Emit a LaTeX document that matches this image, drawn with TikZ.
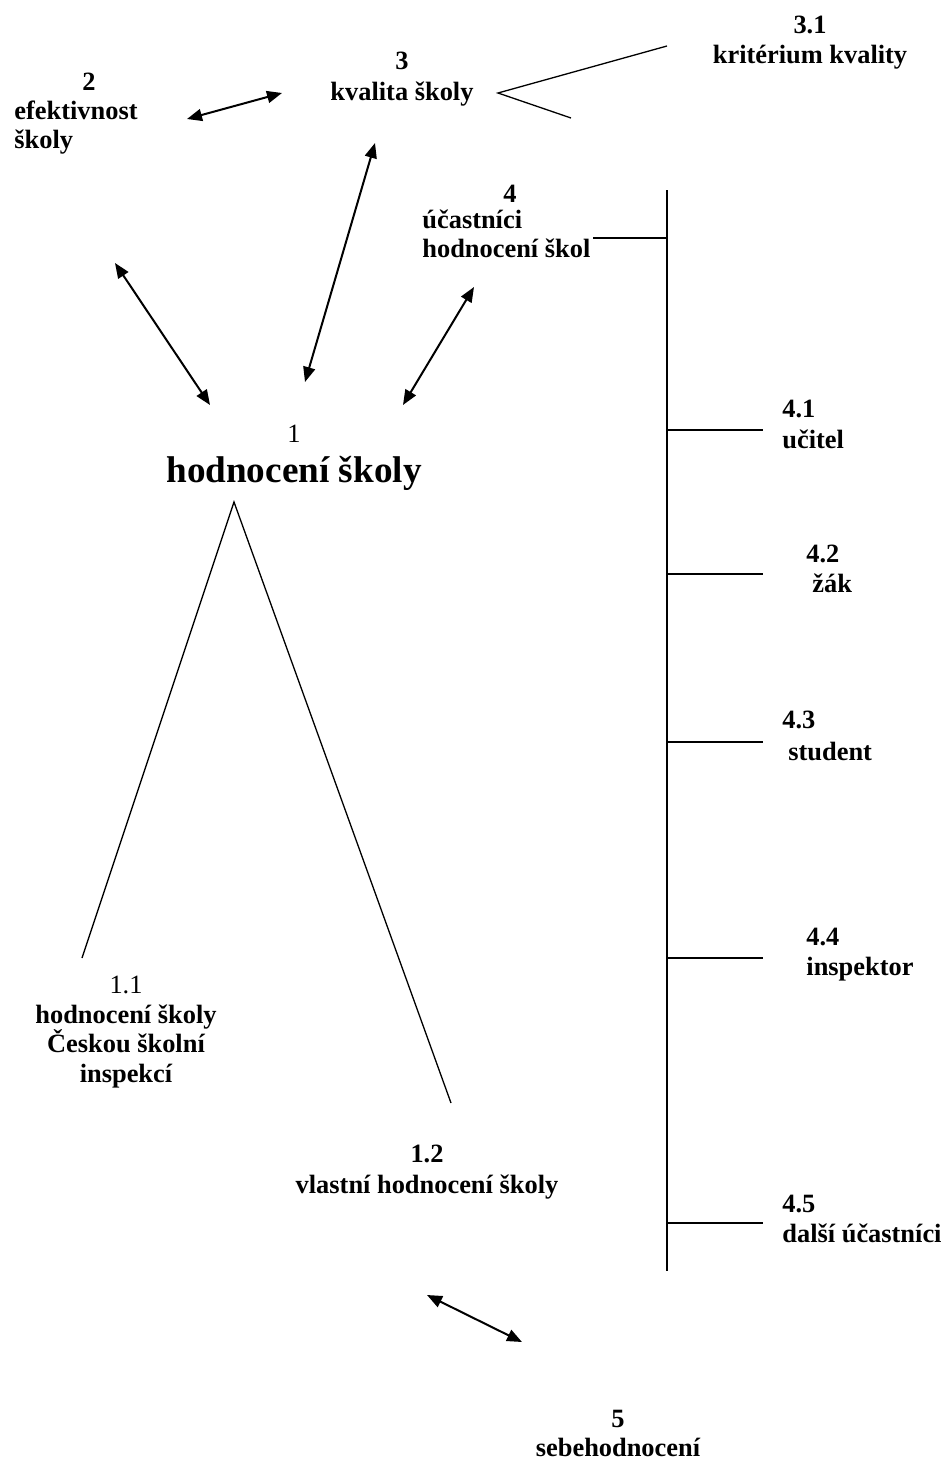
\documentclass[tikz,border=0pt]{standalone}
\usepackage{fontspec}
\setmainfont{Liberation Serif}
\usetikzlibrary{arrows.meta}

\tikzset{
  lab/.style={inner sep=0pt, anchor=north, yshift=10.325pt, align=center,
    font=\bfseries\fontsize{13.2}{14.75}\selectfont, execute at begin node=\strut},
  labl/.style={lab, anchor=north west, align=left},
  plain/.style={lab, font=\fontsize{13.2}{14.75}\selectfont},
  big/.style={lab, yshift=5.075pt, font=\bfseries\fontsize{18.6}{22}\selectfont},
  link/.style={<->, line width=1pt},
  edge/.style={line width=0.65pt},
}

\begin{document}
\begin{tikzpicture}[>={Triangle[length=7.5pt,width=6pt]}, x=0.5pt, y=-0.5pt]
    \useasboundingbox (0, 0) rectangle (949, 1461);

    % efektivnost skoly
    \node[lab] (n2) at (89, 90) {2};
    \node[labl] (t2) at (14, 121) {efektivnost\\školy};
    % kvalita skoly
    \node[lab] (n3) at (402, 69) {3};
    \node[lab] (t3) at (402, 100) {kvalita školy};
    % kriterium kvality
    \node[lab] (n31) at (810, 33) {3.1};
    \node[lab] (t31) at (810, 63) {kritérium kvality};
    % ucastnici hodnoceni skol
    \node[lab] (n4) at (510, 202) {4};
    \node[labl] (t4) at (422, 230) {účastníci\\hodnocení škol};
    % hodnoceni skoly
    \node[plain] (n1) at (294, 442) {1};
    \node[big] (t1) at (294, 482) {hodnocení školy};
    % hodnoceni skoly CSI
    \node[plain] (n11) at (126, 993) {1.1};
    \node[lab] (t11) at (126, 1025) {hodnocení školy\\Českou školní\\inspekcí};
    % vlastni hodnoceni skoly
    \node[lab] (n12) at (427, 1162) {1.2};
    \node[lab] (t12) at (427, 1193) {vlastní hodnocení školy};
    % sebehodnoceni
    \node[lab] (n5) at (618, 1427) {5};
    \node[lab] (t5) at (618, 1456) {sebehodnocení};

    % participants
    \node[labl] (n41) at (782, 417) {4.1};
    \node[labl] (t41) at (782, 448) {učitel};
    \node[labl] (n42) at (806, 562) {4.2};
    \node[labl] (t42) at (812, 592) {žák};
    \node[labl] (n43) at (782, 728) {4.3};
    \node[labl] (t43) at (788, 760) {student};
    \node[labl] (n44) at (806, 945) {4.4};
    \node[labl] (t44) at (806, 975) {inspektor};
    \node[labl] (n45) at (782, 1212) {4.5};
    \node[labl] (t45) at (782, 1242) {další účastníci};

    % arrow ends
    \coordinate (a2) at (187, 119);
    \coordinate (a3l) at (282, 93);
    \coordinate (a3) at (375, 143);
    \coordinate (a1t) at (305, 382);
    \coordinate (a2b) at (115, 263);
    \coordinate (a1l) at (210, 405);
    \coordinate (a4) at (474, 287);
    \coordinate (a1r) at (403, 405);
    \coordinate (a12) at (427, 1295);
    \coordinate (a5) at (522, 1342);

    % two-way arrows
    \draw[link] (a2) -- (a3l);
    \draw[link] (a3) -- (a1t);
    \draw[link] (a2b) -- (a1l);
    \draw[link] (a4) -- (a1r);
    \draw[link] (a12) -- (a5);

    % angle to kriterium
    \coordinate (k1) at (667, 46);
    \coordinate (k0) at (498, 93);
    \coordinate (k2) at (571, 118);
    \draw[edge] (k1) -- (k0) -- (k2);

    % split of hodnoceni skoly
    \coordinate (top) at (234, 502);
    \coordinate (left) at (82, 958);
    \coordinate (right) at (451, 1103);
    \draw[edge] (left) -- (top) -- (right);

    % tree of participants
    \coordinate (tt) at (667, 190);
    \coordinate (tb) at (667, 1271);
    \draw[line width=0.9pt] (tt) -- (tb);
    \draw[edge] (593, 238) coordinate (c4) -- (667, 238);
    \foreach \y in {430, 574, 742, 958, 1223}
        \draw[edge] (667, \y) -- (763, \y);
\end{tikzpicture}
\end{document}
